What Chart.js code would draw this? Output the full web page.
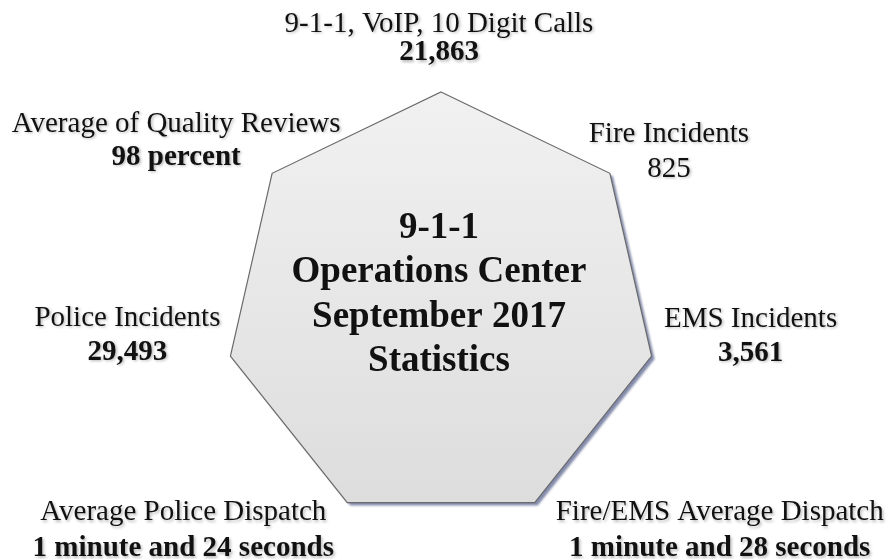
<!DOCTYPE html>
<html>
<head>
<meta charset="utf-8">
<script src="https://cdn.jsdelivr.net/npm/chart.js"></script>
<style>
  html, body { margin: 0; padding: 0; background: #fff; }
  canvas { display: block; }
</style>
</head>
<body>
<canvas id="chart" width="888" height="559"></canvas>
<script>
// stats around the heptagon, clockwise from the top
const categories = [
    '9-1-1, VoIP, 10 Digit Calls',
    'Fire Incidents',
    'EMS Incidents',
    'Fire/EMS Average Dispatch',
    'Average Police Dispatch',
    'Police Incidents',
    'Average of Quality Reviews'
];
const statValues = ['21,863', '825', '3,561', '1 minute and 28 seconds', '1 minute and 24 seconds', '29,493', '98 percent'];
const statBold = [true, false, true, true, true, true, true];
const shapeValues = [100, 100, 100, 100, 100, 100, 100];
const centerTitle = ['9-1-1', 'Operations Center', 'September 2017', 'Statistics'];

// label placement relative to each vertex: [dx, dy of first line, line gap]
const labelPlace = [
    [-2, -68, 29],
    [59, -39, 35],
    [99, -37, 34],
    [185, 10, 36],
    [-164, 10, 36],
    [-103, -38, 34],
    [-96, -49, 33]
];

const shadowPlugin = {
    id: 'shapeShadow',
    beforeDatasetsDraw(chart) {
        const pts = chart.getDatasetMeta(0).data;
        const ctx = chart.ctx;
        ctx.save();
        ctx.filter = 'blur(1.2px)';
        ctx.translate(3, 3);
        ctx.beginPath();
        pts.forEach((p, i) => i ? ctx.lineTo(p.x, p.y) : ctx.moveTo(p.x, p.y));
        ctx.closePath();
        ctx.fillStyle = 'rgba(118,126,162,0.9)';
        ctx.fill();
        ctx.restore();
    }
};

const textPlugin = {
    id: 'statText',
    afterDatasetsDraw(chart) {
        const ctx = chart.ctx;
        const scale = chart.scales.r;
        ctx.save();
        ctx.textAlign = 'center';
        ctx.textBaseline = 'middle';
        ctx.fillStyle = '#111';
        ctx.shadowColor = 'rgba(0,0,0,0.28)';
        ctx.shadowBlur = 3;
        ctx.shadowOffsetX = 1.5;
        ctx.shadowOffsetY = 1.5;
        categories.forEach((name, i) => {
            const p = scale.getPointPosition(i, scale.drawingArea);
            const [dx, dy, gap] = labelPlace[i];
            ctx.font = '29px "Liberation Serif", "Times New Roman", serif';
            ctx.fillText(name, p.x + dx, p.y + dy);
            ctx.font = (statBold[i] ? 'bold ' : '') + '29px "Liberation Serif", "Times New Roman", serif';
            ctx.fillText(statValues[i], p.x + dx, p.y + dy + gap);
        });
        ctx.shadowColor = 'transparent';
        ctx.font = 'bold 37px "Liberation Serif", "Times New Roman", serif';
        centerTitle.forEach((line, i) => {
            ctx.fillText(line, scale.xCenter - 2, scale.yCenter - 80 + i * 44.5);
        });
        ctx.restore();
    }
};

new Chart(document.getElementById('chart'), {
    type: 'radar',
    data: {
        labels: categories,
        datasets: [{
            data: shapeValues,
            fill: true,
            backgroundColor: (c) => {
                const area = c.chart.chartArea;
                if (!area) return '#e6e6e6';
                const g = c.chart.ctx.createLinearGradient(0, area.top, 0, area.bottom);
                g.addColorStop(0, '#f1f1f1');
                g.addColorStop(1, '#dcdcdc');
                return g;
            },
            borderColor: '#6a6a6a',
            borderWidth: 1.2,
            pointRadius: 0,
            pointHoverRadius: 0
        }]
    },
    options: {
        responsive: false,
        animation: false,
        layout: { padding: { top: 92, bottom: 35, left: 0, right: 6 } },
        plugins: {
            legend: { display: false },
            tooltip: { enabled: false }
        },
        scales: {
            r: {
                min: 0,
                max: 100,
                ticks: { display: false },
                grid: { display: false },
                angleLines: { display: false },
                pointLabels: { display: false }
            }
        }
    },
    plugins: [shadowPlugin, textPlugin]
});
</script>
</body>
</html>
